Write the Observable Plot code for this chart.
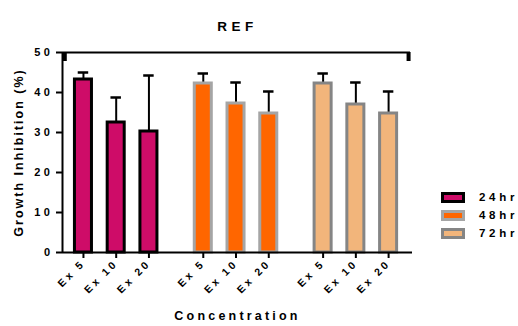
<!DOCTYPE html>
<html>
<head>
<meta charset="utf-8">
<script src="https://cdn.jsdelivr.net/npm/d3@7"></script>
<script src="https://cdn.jsdelivr.net/npm/@observablehq/plot@0.6"></script>
<style>
  html, body { margin: 0; padding: 0; background: #fff; }
  #wrap { position: relative; width: 518px; height: 326px; font-family: "Liberation Sans", Arial, sans-serif; }
  #legend { position: absolute; left: 441px; top: 188px; }
  .item { display: flex; align-items: center; height: 18px; }
  .sw { width: 18px; height: 5px; box-sizing: content-box; border-style: solid; border-width: 3px; }
  .lab { margin-left: 14px; font-size: 11.5px; font-weight: bold; letter-spacing: 3.7px; color: #000; }
</style>
</head>
<body>
<div id="wrap"><div id="legend"></div></div>
<script>
// ---- data ----
const times = ["24hr", "48hr", "72hr"];
const concentrations = ["Ex 5", "Ex 10", "Ex 20"];
const means24 = [43.25, 32.5, 30.25];
const sd24    = [1.75, 6.25, 14.0];
const means48 = [42.25, 37.25, 34.75];
const sd48    = [2.5, 5.25, 5.5];
const means72 = [42.25, 37.0, 34.75];
const sd72    = [2.5, 5.5, 5.5];
const yTicks = [0, 10, 20, 30, 40, 50];
const bracketTop = 50;
const bracketDrop = 47.75;

// ---- styles / layout ----
const fills   = {"24hr": "#CE0C68", "48hr": "#FF6600", "72hr": "#F2B57B"};
const strokes = {"24hr": "#000000", "48hr": "#A5A5A5", "72hr": "#858585"};
const groupStep = 3.66;   // group spacing in bar-slot units
const halfBar = 0.26;
const means = [means24, means48, means72];
const sds = [sd24, sd48, sd72];

const rows = [];
times.forEach((t, gi) => concentrations.forEach((c, ci) => {
  rows.push({time: t, conc: c, pos: gi * groupStep + ci, mean: means[gi][ci], sd: sds[gi][ci]});
}));
const xMin = -0.64, xMax = rows[rows.length - 1].pos + 0.73;
const labelAt = new Map(rows.map(r => [r.pos, r.conc]));

const chart = Plot.plot({
  width: 518,
  height: 326,
  marginLeft: 62,
  marginRight: 106,
  marginTop: 52,
  marginBottom: 74,
  style: {fontFamily: "'Liberation Sans', Arial, sans-serif", fontSize: "10.5px", fontWeight: "bold", letterSpacing: "3px", color: "#000", background: "#fff"},
  x: {type: "linear", domain: [xMin, xMax], axis: null},
  y: {domain: [0, 50], axis: null},
  marks: [
    // error bars (upper)
    Plot.ruleX(rows, {x: "pos", y1: "mean", y2: d => d.mean + d.sd, stroke: "#000", strokeWidth: 2}),
    Plot.ruleY(rows, {x1: d => d.pos - 0.16, x2: d => d.pos + 0.16, y: d => d.mean + d.sd, stroke: "#000", strokeWidth: 2.5}),
    // bars
    Plot.rectY(rows, {x1: d => d.pos - halfBar, x2: d => d.pos + halfBar, y: "mean",
      fill: d => fills[d.time], stroke: d => strokes[d.time], strokeWidth: 3}),
    // axes
    Plot.axisY({ticks: yTicks, tickSize: 6, tickPadding: 3, strokeWidth: 2, label: null, fontSize: 11}),
    Plot.axisX({ticks: rows.map(r => r.pos), tickFormat: d => labelAt.get(d), tickRotate: -45, tickSize: 6, tickPadding: 3, strokeWidth: 2, label: null}),
    Plot.ruleY([0], {strokeWidth: 2}),
    Plot.ruleX([xMin], {y1: 0, y2: bracketTop, strokeWidth: 2}),
    // top bracket
    Plot.ruleY([bracketTop], {x1: xMin, x2: xMax - 0.06, strokeWidth: 2}),
    Plot.ruleX([xMin + 0.07, xMax - 0.12], {y1: bracketDrop, y2: bracketTop, strokeWidth: 4}),
    // titles
    Plot.text(["REF"], {frameAnchor: "top", dy: -31, dx: 0, fontSize: 13.5, fontWeight: "bold"}),
    Plot.text(["Growth Inhibition (%)"], {frameAnchor: "left", textAnchor: "middle", dx: -44, rotate: -90, fontSize: 12.5}),
    Plot.text(["Concentration"], {frameAnchor: "bottom", textAnchor: "middle", dy: 67, dx: 0, fontSize: 12.5})
  ]
});
// letter spacing for titles and y tick labels
d3.select(chart).selectAll("text").each(function() {
  const t = this.textContent;
  if (t === "REF") this.style.letterSpacing = "4.5px";
  else if (t === "Concentration") this.style.letterSpacing = "3.2px";
  else if (t === "Growth Inhibition (%)") this.style.letterSpacing = "2px";
  else if (/^\d+$/.test(t)) this.style.letterSpacing = "3.5px";
});
document.getElementById("wrap").prepend(chart);

const legend = document.getElementById("legend");
times.forEach(t => {
  const it = document.createElement("div");
  it.className = "item";
  const sw = document.createElement("div");
  sw.className = "sw";
  sw.style.background = fills[t];
  sw.style.borderColor = strokes[t];
  const lb = document.createElement("span");
  lb.className = "lab";
  lb.textContent = t;
  it.append(sw, lb);
  legend.append(it);
});
</script>
</body>
</html>
